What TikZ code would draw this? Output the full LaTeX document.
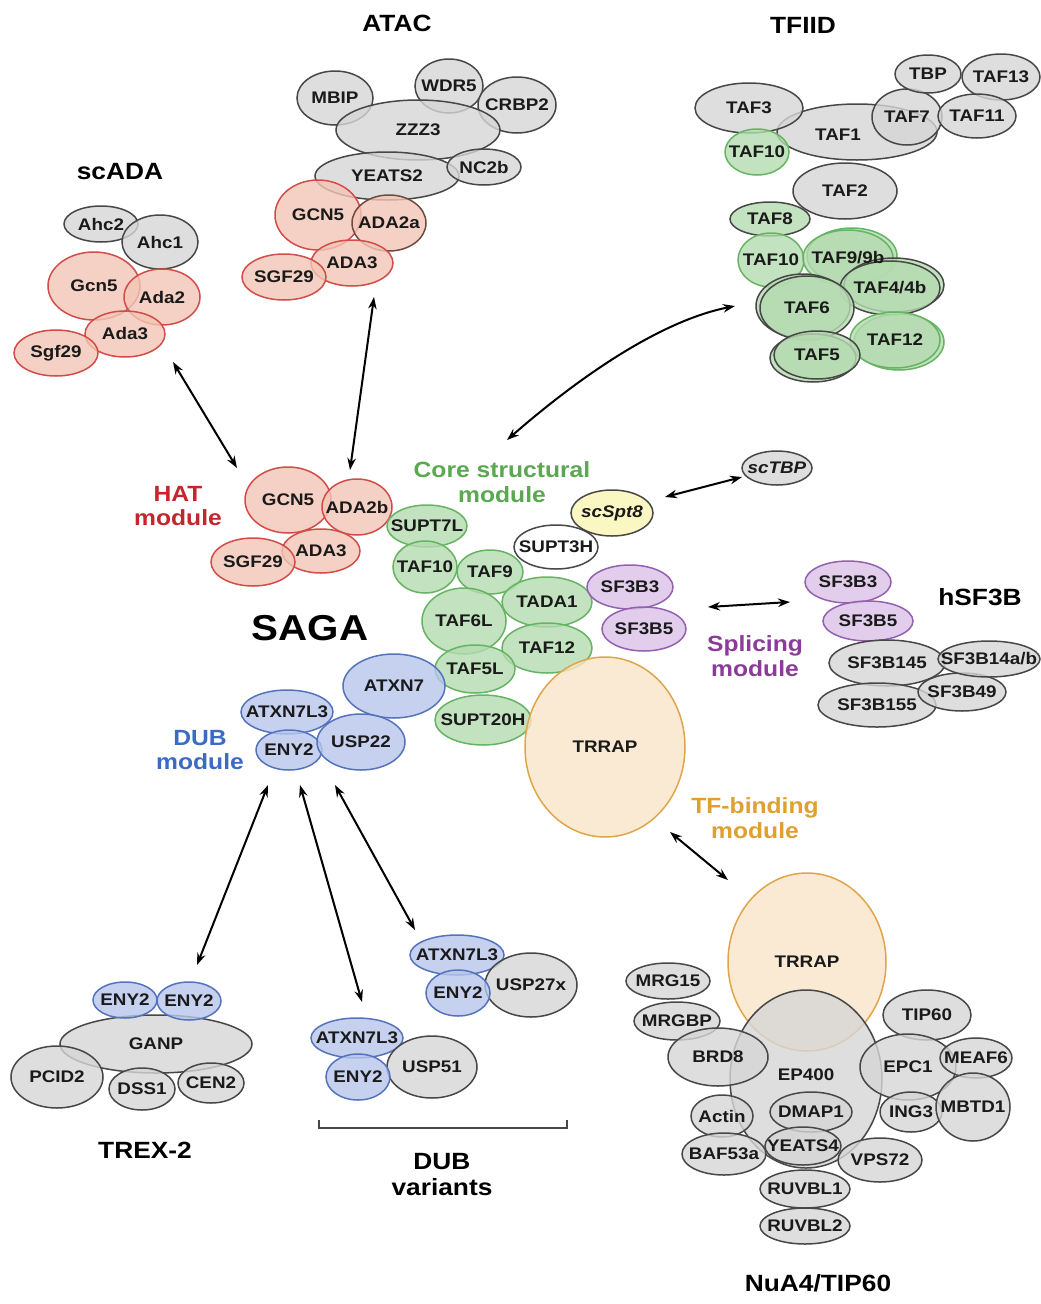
\documentclass[tikz,border=0pt]{standalone}
\usepackage{fontspec}
\setmainfont{Liberation Sans}[FakeStretch=1.12]
\usetikzlibrary{shapes.geometric,arrows.meta}
\pgfdeclarelayer{bg}
\pgfsetlayers{bg,main}
\definecolor{redL}{HTML}{D24C48}
\definecolor{redF}{HTML}{F2C6B6}
\definecolor{redD}{HTML}{6E4A42}
\definecolor{grnL}{HTML}{66B463}
\definecolor{grnF}{HTML}{B5DBB0}
\definecolor{bluL}{HTML}{5573BB}
\definecolor{bluF}{HTML}{B8C6EB}
\definecolor{gryL}{HTML}{474747}
\definecolor{gryF}{HTML}{D6D6D6}
\definecolor{purL}{HTML}{9460AF}
\definecolor{purF}{HTML}{DBC2E8}
\definecolor{orL}{HTML}{E0A54A}
\definecolor{orF}{HTML}{FBE5C8}
\definecolor{ylF}{HTML}{FBF6B4}
\definecolor{txt}{HTML}{1A1A1A}
\definecolor{hatC}{HTML}{C4262E}
\definecolor{coreC}{HTML}{5AA84F}
\definecolor{dubC}{HTML}{3B6CC4}
\definecolor{splC}{HTML}{8B3C98}
\definecolor{tfbC}{HTML}{E0A030}
\newcommand\labf{\fontsize{16.8}{18}\selectfont\bfseries}
\newcommand\ttlf{\fontsize{23.5}{26}\selectfont\bfseries}
\newcommand\modf{\fontsize{22}{24.5}\selectfont\bfseries}
\newcommand\ov[6]{%
  \begin{pgfonlayer}{bg}\node[#1, minimum width=#4*2pt, minimum height=#5*2pt] (#2) at (#3) {};\end{pgfonlayer}%
  \node[lab] (#2-t) at (#3) {#6};}
\newcommand\sh[4]{\begin{pgfonlayer}{bg}\draw[shadowline, draw=#1] (#2) ellipse [x radius=#3pt, y radius=#4pt];\end{pgfonlayer}}
\tikzset{
  blobbase/.style={ellipse, inner sep=0pt, outer sep=0pt, line width=1.5pt, fill opacity=0.8},
  lab/.style={font=\labf, text=txt, inner sep=0pt},
  rd/.style={blobbase, draw=redL, fill=redF},
  rdk/.style={blobbase, draw=redD, fill=redF},
  gr/.style={blobbase, draw=grnL, fill=grnF},
  grk/.style={blobbase, draw=gryL, fill=grnF},
  bl/.style={blobbase, draw=bluL, fill=bluF},
  gy/.style={blobbase, draw=gryL, fill=gryF},
  pu/.style={blobbase, draw=purL, fill=purF},
  trr/.style={blobbase, draw=orL, fill=orF},
  wt/.style={blobbase, draw=gryL, fill=white},
  yl/.style={blobbase, draw=gryL, fill=ylF},
  ttl/.style={font=\ttlf, text=black},
  modl/.style={font=\modf, align=center},
  arr/.style={{Stealth[length=12pt,width=8.5pt]}-{Stealth[length=12pt,width=8.5pt]}, line width=2pt, black},
  shadowline/.style={line width=1.5pt, fill=grnF, fill opacity=0.8}
}
\begin{document}
\begin{tikzpicture}[x=1pt,y=-1pt]
\begin{pgfonlayer}{bg}
\fill[white] (0,0) rectangle (1041,1304);
\end{pgfonlayer}
\useasboundingbox (0,0) rectangle (1041,1304);

% ---------------- scADA
\node[ttl] (tscada) at (120,172) {scADA};
\ov{gy}{ahc2}{101,224}{37}{18}{Ahc2}
\ov{gy}{ahc1}{160,242}{38}{27}{Ahc1}
\ov{rd}{gcn5y}{94,286}{46}{34}{Gcn5}
\ov{rd}{ada2y}{162,297}{38}{28}{Ada2}
\ov{rd}{ada3y}{125,334}{40}{23}{Ada3}
\ov{rd}{sgf29y}{56,353}{42}{23}{Sgf29}

% ---------------- ATAC
\node[ttl] (tatac) at (397,23) {ATAC};
\ov{gy}{mbip}{335,98}{38}{27}{MBIP}
\ov{gy}{wdr5}{449,86}{34}{27}{WDR5}
\ov{gy}{crbp2}{517,105}{39}{28}{CRBP2}
\ov{gy}{zzz3}{418,130}{82}{30}{ZZZ3}
\ov{gy}{yeats2}{387,176}{72}{24}{YEATS2}
\ov{gy}{nc2b}{484,167}{37}{18}{NC2b}
\ov{rd}{gcn5a}{318,215}{43}{35}{GCN5}
\ov{rdk}{ada2a}{389,223}{37}{28}{ADA2a}
\ov{rd}{ada3a}{352,263}{41}{23}{ADA3}
\ov{rd}{sgf29a}{284,277}{42}{23}{SGF29}

% ---------------- TFIID
\node[ttl] (ttfiid) at (803,25) {TFIID};
\ov{gy}{taf1}{857,132}{80}{28}{}
\node[lab] (taf1l) at (838,135) {TAF1};
\ov{gy}{taf3}{749,108}{54}{25}{TAF3}
\ov{gy}{taf7}{907,117}{35}{28}{TAF7}
\ov{gy}{tbp}{928,74}{33}{19}{TBP}
\ov{gy}{taf13}{1001,77}{39}{23}{TAF13}
\ov{gy}{taf11}{977,116}{39}{22}{TAF11}
\ov{gr}{taf10t}{757,152}{32}{23}{TAF10}
\ov{gy}{taf2}{845,191}{52}{28}{TAF2}
\ov{grk}{taf8}{770,219}{40}{17}{TAF8}
\ov{gr}{taf10u}{771,260}{33}{27}{TAF10}
\sh{grnL}{852,256}{45}{28}
\ov{gr}{taf9t}{848,258}{45}{28}{TAF9/9b}
\sh{gryL}{894,285}{50}{27}
\ov{grk}{taf4}{890,288}{50}{27}{TAF4/4b}
\sh{gryL}{803,306}{47}{32}
\ov{grk}{taf6}{807,308}{47}{32}{TAF6}
\sh{grnL}{899,342}{45}{28}
\ov{gr}{taf12t}{895,340}{45}{28}{TAF12}
\sh{gryL}{813,358}{43}{24}
\ov{grk}{taf5}{817,355}{43}{24}{TAF5}

% ---------------- SAGA HAT module
\node[modl, text=hatC] (hatlab) at (178,506) {HAT\\module};
\ov{rd}{gcn5s}{288,500}{43}{33}{GCN5}
\ov{rd}{ada2b}{357,507}{35}{28}{ADA2b}
\ov{rd}{ada3s}{321,551}{39}{22}{ADA3}
\ov{rd}{sgf29s}{253,562}{42}{24}{SGF29}

% ---------------- Core structural module
\node[modl, text=coreC] (corelab) at (502,482) {Core structural\\module};
\ov{gr}{supt7l}{427,526}{40}{21}{SUPT7L}
\ov{gr}{taf10s}{425,567}{32}{26}{TAF10}
\ov{gr}{taf9s}{490,572}{33}{22}{TAF9}
\ov{wt}{supt3h}{556,547}{42}{22}{SUPT3H}
\ov{yl}{spt8}{612,513}{41}{23}{\textit{scSpt8}}
\ov{gr}{tada1}{547,602}{45}{25}{TADA1}
\ov{gr}{taf12s}{547,648}{45}{25}{TAF12}
\ov{gr}{taf6l}{464,621}{42}{33}{TAF6L}
\ov{gr}{taf5l}{475,669}{40}{24}{TAF5L}
\ov{gr}{supt20h}{483,720}{48}{25}{SUPT20H}
\ov{gy}{sctbp}{777,468}{35}{17}{\textit{scTBP}}

% ---------------- SAGA label
\node[font=\fontsize{36}{40}\selectfont\bfseries] (saga) at (310,628) {SAGA};

% ---------------- DUB module
\node[modl, text=dubC] (dublab) at (200,750) {DUB\\module};
\ov{bl}{atxn7}{394,686}{51}{32}{ATXN7}
\ov{bl}{atxn7l3s}{287,712}{46}{22}{ATXN7L3}
\ov{bl}{eny2s}{289,750}{33}{20}{ENY2}
\ov{bl}{usp22}{361,742}{44}{28}{USP22}

% ---------------- Splicing module
\ov{pu}{sf3b3s}{630,587}{43}{22}{SF3B3}
\ov{pu}{sf3b5s}{644,629}{42}{22}{SF3B5}
\node[modl, text=splC] (spllab) at (755,656) {Splicing\\module};

% ---------------- TF-binding module
\ov{trr}{trraps}{605,747}{80}{90}{TRRAP}
\node[modl, text=tfbC] (tfblab) at (755,818) {TF-binding\\module};

% ---------------- hSF3B
\node[ttl] (thsf) at (980,597) {hSF3B};
\ov{pu}{sf3b3h}{848,582}{43}{21}{SF3B3}
\ov{pu}{sf3b5h}{868,621}{45}{20}{SF3B5}
\ov{gy}{sf3b145}{887,663}{58}{23}{SF3B145}
\ov{gy}{sf3b155}{877,705}{59}{22}{SF3B155}
\ov{gy}{sf3b49}{962,692}{44}{19}{SF3B49}
\ov{gy}{sf3b14}{989,659}{51}{18}{SF3B14a/b}

% ---------------- NuA4/TIP60
\ov{trr}{trrapn}{807,962}{79}{89}{TRRAP}
\ov{gy}{ep400}{806,1079}{76}{89}{}
\node[lab] (ep400l) at (806,1075) {EP400};
\ov{gy}{mrg15}{668,981}{42}{18}{MRG15}
\ov{gy}{mrgbp}{677,1021}{43}{19}{MRGBP}
\ov{gy}{brd8}{718,1057}{50}{29}{BRD8}
\ov{gy}{tip60}{927,1015}{44}{25}{TIP60}
\ov{gy}{epc1}{908,1067}{48}{33}{EPC1}
\ov{gy}{meaf6}{976,1058}{36}{20}{MEAF6}
\ov{gy}{ing3}{911,1112}{31}{20}{ING3}
\ov{gy}{mbtd1}{973,1107}{37}{34}{MBTD1}
\ov{gy}{actin}{722,1116}{31}{21}{Actin}
\ov{gy}{dmap1}{811,1112}{41}{20}{DMAP1}
\ov{gy}{yeats4}{803,1146}{38}{19}{YEATS4}
\ov{gy}{baf53a}{724,1154}{42}{21}{BAF53a}
\ov{gy}{vps72}{880,1160}{42}{22}{VPS72}
\ov{gy}{ruvbl1}{805,1189}{45}{19}{RUVBL1}
\ov{gy}{ruvbl2}{805,1226}{45}{18}{RUVBL2}
\node[ttl] (tnua4) at (818,1283) {NuA4/TIP60};

% ---------------- TREX-2
\ov{gy}{ganp}{156,1044}{96}{29}{GANP}
\ov{bl}{eny2ta}{125,1000}{32}{18}{ENY2}
\ov{bl}{eny2tb}{189,1001}{32}{19}{ENY2}
\ov{gy}{pcid2}{57,1077}{46}{31}{PCID2}
\ov{gy}{dss1}{142,1089}{33}{21}{DSS1}
\ov{gy}{cen2}{211,1083}{33}{20}{CEN2}
\node[ttl] (ttrex) at (145,1150) {TREX-2};

% ---------------- DUB variants
\ov{bl}{atxn7l3a}{457,955}{47}{20}{ATXN7L3}
\ov{gy}{usp27x}{531,985}{46}{32}{USP27x}
\ov{bl}{eny2a}{458,993}{32}{23}{ENY2}
\ov{bl}{atxn7l3b}{357,1038}{46}{20}{ATXN7L3}
\ov{gy}{usp51}{432,1067}{45}{31}{USP51}
\ov{bl}{eny2b}{358,1077}{32}{23}{ENY2}
\coordinate (brl) at (319,1128);
\coordinate (brr) at (567,1128);
\draw[line width=1.4pt, gryL] ([yshift=8pt]brl) -- (brl) -- (brr) -- ([yshift=8pt]brr);
\node[ttl, align=center] (tdubv) at (442,1175) {DUB\\variants};

% ---------------- arrows
\coordinate (a1s) at (173,362); \coordinate (a1e) at (237,468);
\coordinate (a2s) at (374,297); \coordinate (a2e) at (350,470);
\coordinate (a3s) at (507,440); \coordinate (a3e) at (735,306);
\coordinate (a4s) at (665,497); \coordinate (a4e) at (742,477);
\coordinate (a5s) at (708,607); \coordinate (a5e) at (790,602);
\coordinate (a6s) at (670,832); \coordinate (a6e) at (728,880);
\coordinate (a7s) at (268,785); \coordinate (a7e) at (197,965);
\coordinate (a8s) at (300,785); \coordinate (a8e) at (362,1002);
\coordinate (a9s) at (335,785); \coordinate (a9e) at (415,930);
\draw[arr] (a1s) -- (a1e);
\draw[arr] (a2s) -- (a2e);
\draw[arr] (a3s) .. controls (570,385) and (655,322) .. (a3e);
\draw[arr] (a4s) -- (a4e);
\draw[arr] (a5s) -- (a5e);
\draw[arr] (a6s) -- (a6e);
\draw[arr] (a7s) -- (a7e);
\draw[arr] (a8s) -- (a8e);
\draw[arr] (a9s) -- (a9e);
\end{tikzpicture}
\end{document}
